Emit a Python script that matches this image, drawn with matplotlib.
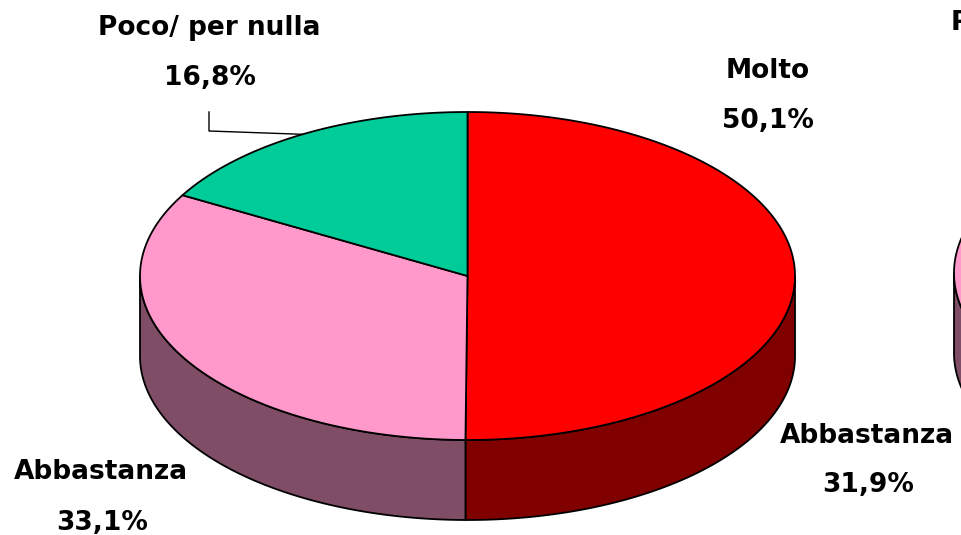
import numpy as np
import matplotlib.pyplot as plt
from matplotlib.patches import Polygon

# main pie (slices clockwise from 12 o'clock)
categories = ["Molto", "Abbastanza", "Poco/ per nulla"]
values = [50.1, 33.1, 16.8]
top_colors = ["#FF0000", "#FF99CC", "#00CC99"]
side_colors = ["#800000", "#804D66", "#006650"]

# second pie, cut off at the right edge: only its pink slice shows
values2 = [50.2, 31.9, 17.9]  # Molto / Poco estimated, not visible

W, H = 961, 535
CX, CY, RX, RY, DEPTH = 467.5, 276, 327.5, 164, 80
CX2, CY2 = 1281.5, 273

fig = plt.figure(figsize=(W / 100, H / 100), dpi=100)
ax = fig.add_axes([0, 0, 1, 1])
ax.set_xlim(0, W)
ax.set_ylim(H, 0)
ax.axis("off")


def pt(cx, cy, deg, dy=0.0):
    t = np.radians(deg)
    return cx + RX * np.sin(t), cy - RY * np.cos(t) + dy


def arc(cx, cy, a0, a1, dy=0.0):
    a = np.linspace(a0, a1, max(int(abs(a1 - a0) * 2), 2))
    x, y = pt(cx, cy, a, dy)
    return np.column_stack([x, y])


def draw_pie(cx, cy, vals):
    edges = np.concatenate([[0], np.cumsum(vals) / np.sum(vals) * 360])
    # sides first: only the front half (90..270 deg) is visible
    for i in range(len(vals)):
        a0, a1 = max(edges[i], 90), min(edges[i + 1], 270)
        if a1 <= a0:
            continue
        poly = np.vstack([arc(cx, cy, a0, a1), arc(cx, cy, a1, a0, DEPTH)])
        ax.add_patch(Polygon(poly, closed=True, fc=side_colors[i],
                             ec="black", lw=1.3, joinstyle="round"))
    for i in range(len(vals)):
        poly = np.vstack([[cx, cy], arc(cx, cy, edges[i], edges[i + 1])])
        ax.add_patch(Polygon(poly, closed=True, fc=top_colors[i],
                             ec="black", lw=1.3, joinstyle="round"))
    return edges


edges = draw_pie(CX, CY, values)
draw_pie(CX2, CY2, values2)

font = dict(family="DejaVu Sans", fontweight="bold", fontsize=19,
            color="black", ha="center", va="baseline")


def fmt(v):
    return f"{v:.1f}%".replace(".", ",")


# labels
ax.text(768, 78, categories[0], **font)
ax.text(768, 128, fmt(values[0]), **font)
ax.text(101, 479, categories[1], **font)
ax.text(102, 530, fmt(values[1]), **font)
ax.text(209, 35, categories[2], **font)
ax.text(210, 85, fmt(values[2]), **font)

# leader line of the small slice, ends at its mid angle on the rim
mx, my = pt(CX, CY, (edges[2] + edges[3]) / 2)
ax.plot([209, 209, mx], [112, 131, my], color="black", lw=1.0)

# labels belonging to the second pie (its small-slice label is cut off)
ax.text(867, 443, "Abbastanza", **font)
ax.text(868, 492, fmt(values2[1]), **font)
ax.text(951, 30, "Poco/ per nulla", **{**font, "ha": "left"})

fig.savefig("out.png", dpi=100)
